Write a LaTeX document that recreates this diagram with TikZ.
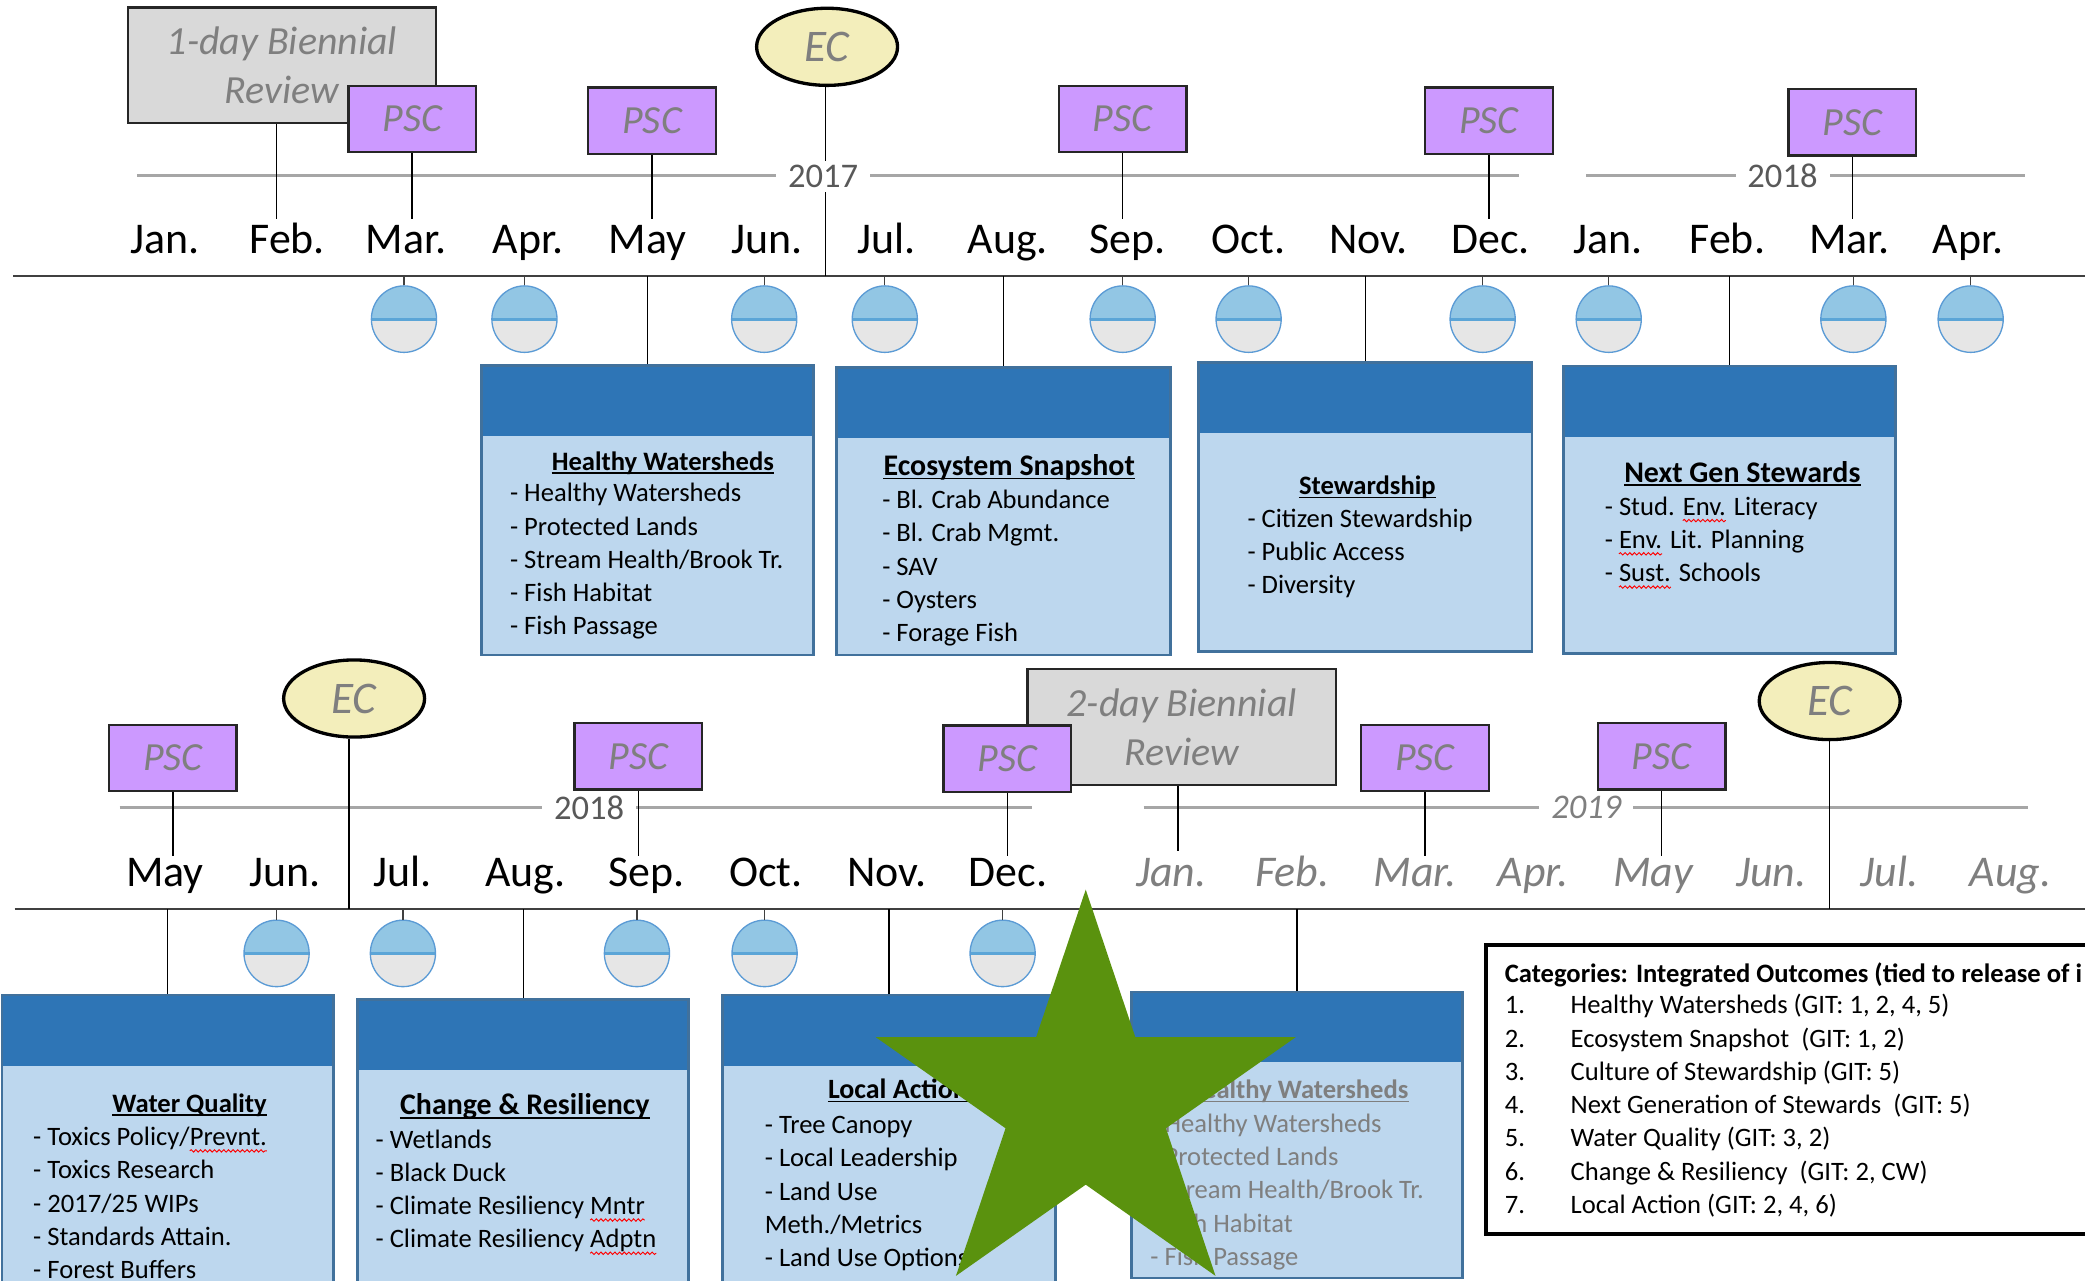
\documentclass[tikz,border=0pt]{standalone}
\usepackage{fontspec}
\setmainfont{Carlito}
\usetikzlibrary{shapes.geometric,decorations.pathmorphing}
\definecolor{pscfill}{RGB}{204,153,255}
\definecolor{revfill}{RGB}{217,217,217}
\definecolor{ecfill}{RGB}{243,238,187}
\definecolor{txtgray}{RGB}{127,127,127}
\definecolor{yrgray}{RGB}{89,89,89}
\definecolor{boxline}{RGB}{38,38,38}
\definecolor{axcol}{RGB}{64,64,64}
\definecolor{ylcol}{RGB}{166,166,166}
\definecolor{bubtop}{RGB}{146,198,228}
\definecolor{bubbot}{RGB}{230,230,230}
\definecolor{bubmid}{RGB}{91,165,215}
\definecolor{bubedge}{RGB}{91,155,213}
\definecolor{cathead}{RGB}{46,117,182}
\definecolor{catbody}{RGB}{189,215,238}
\definecolor{catline}{RGB}{65,113,156}
\definecolor{stargreen}{RGB}{90,146,14}
\newlength\sqw
\newcommand{\sq}[1]{\settowidth{\sqw}{#1}\rlap{\tikz[baseline=0pt,x=1pt,y=1pt]{\useasboundingbox (0,0); \draw[red, line width=0.7pt, decorate, decoration={snake, amplitude=0.9pt, segment length=3.5pt}] (0,-4) -- (\sqw,-4);}}#1}
\begin{document}
\begin{tikzpicture}[x=1pt,y=-1pt,
  sMon/.style={anchor=base, inner sep=0pt, font=\fontsize{33}{38}\selectfont},
  sMonF/.style={anchor=base, inner sep=0pt, text=txtgray, font=\fontsize{33}{38}\selectfont\itshape},
  sYr/.style={fill=white, text=yrgray, inner xsep=9pt, inner ysep=3pt, font=\fontsize{26}{30}\selectfont},
  sYrF/.style={fill=white, text=txtgray, inner xsep=9pt, inner ysep=3pt, font=\fontsize{26}{30}\selectfont\itshape},
  sPsc/.style={draw=boxline, line width=1.8pt, fill=pscfill, minimum width=96pt, minimum height=50pt, inner sep=0pt, text=txtgray, font=\fontsize{30}{36}\selectfont\itshape},
  sEc/.style={ellipse, draw=black, line width=2.5pt, fill=ecfill, minimum width=106pt, minimum height=58pt, inner sep=0pt, text=txtgray, font=\fontsize{34}{40}\selectfont\itshape},
  sRev/.style={draw=boxline, line width=1.8pt, fill=revfill, minimum width=232pt, minimum height=87pt, inner sep=0pt, align=center, text=txtgray, font=\fontsize{30}{37}\selectfont\itshape},
  sBub/.style={ellipse, minimum width=49pt, minimum height=50pt, inner sep=0pt, draw=bubedge, line width=1pt, fill=bubbot,
    path picture={\fill[bubtop] (path picture bounding box.north west) rectangle (path picture bounding box.east);
      \draw[bubmid, line width=2.2pt] (path picture bounding box.west) -- (path picture bounding box.east);}},
  sCat/.style={draw=catline, line width=2pt, fill=catbody, inner sep=0pt,
    path picture={\fill[cathead] (path picture bounding box.north west) rectangle ([yshift=-53pt]path picture bounding box.north east);}},
  sTtl/.style={anchor=base west, inner sep=0pt, font=\fontsize{20}{25}\selectfont\bfseries},
  sTtlL/.style={anchor=base west, inner sep=0pt, font=\fontsize{22.5}{27}\selectfont\bfseries},
  sItm/.style={anchor=base west, inner sep=0pt, font=\fontsize{20}{25}\selectfont},
  sUl/.style={line width=1.2pt},
  sStem/.style={draw=black, line width=1.1pt},
  sBStem/.style={draw=axcol, line width=1pt},
  sAx/.style={draw=axcol, line width=2pt},
  sYl/.style={draw=ylcol, line width=2.2pt},
]
\useasboundingbox (0,0) rectangle (1568,963);
\clip (0,0) rectangle (1568,963);

% reference coordinates
\coordinate (ax1a) at (10,207.5);
\coordinate (ax1b) at (1568,207.5);
\coordinate (ax2a) at (11,683.5);
\coordinate (ax2b) at (1568,683.5);
\coordinate (r1) at (0,165);
\coordinate (r2) at (0,644);
\coordinate (r3) at (0,640);
\coordinate (ya1) at (103,132);
\coordinate (ya2) at (1142,132);
\coordinate (ya3) at (1193,132);
\coordinate (ya4) at (1523,132);
\coordinate (yb1) at (90,607.5);
\coordinate (yb2) at (776,607.5);
\coordinate (yb3) at (860,607.5);
\coordinate (yb4) at (1525,607.5);

% axis and year lines
\draw[sAx] (ax1a) -- (ax1b);
\draw[sAx] (ax2a) -- (ax2b);
\draw[sYl] (ya1) -- (ya2);
\draw[sYl] (ya3) -- (ya4);
\draw[sYl] (yb1) -- (yb2);
\draw[sYl] (yb3) -- (yb4);

% review boxes, EC, PSC
\node[sRev] (rev1) at (212.05,49.15) {1-day Biennial\\Review};
\node[sRev] (rev2) at (888.7,546.7) {2-day Biennial\\Review};
\node[sEc] (e1) at (622,35.2) {EC};
\node[sEc] (e2) at (266.3,525.3) {EC};
\node[sEc] (e3) at (1376,527.2) {EC};
\node[sPsc] (p1) at (310,89.5) {PSC};
\node[sPsc] (p2) at (490.4,90.8) {PSC};
\node[sPsc] (p3) at (844.2,89.5) {PSC};
\node[sPsc] (p4) at (1119.7,90.8) {PSC};
\node[sPsc] (p5) at (1393,92) {PSC};
\node[sPsc] (q1) at (130,570) {PSC};
\node[sPsc] (q2) at (480.1,568.8) {PSC};
\node[sPsc] (q3) at (757.5,570.6) {PSC};
\node[sPsc] (q4) at (1071.6,570) {PSC};
\node[sPsc] (q5) at (1249.6,568.8) {PSC};

% stems from events
\draw[sStem] ([xshift=-4pt]rev1.south) -- ([xshift=-4pt]rev1.south |- r1);
\foreach \n in {p1,p2,p3,p4,p5} \draw[sStem] (\n.south) -- (\n.south |- r1);
\foreach \n in {q1,q2,q3,q4,q5} \draw[sStem] (\n.south) -- (\n.south |- r2);
\draw[sStem, line width=2pt] ([xshift=-2.7pt]rev2.south) -- ([xshift=-2.7pt]rev2.south |- r3);
\draw[sStem] ([xshift=-1pt]e1.south) -- ([xshift=-1pt]e1.south |- ax1a);
\draw[sStem] ([xshift=-3.8pt]e2.south) -- ([xshift=-3.8pt]e2.south |- ax2a);
\draw[sStem] (e3.south) -- (e3.south |- ax2a);

% year labels
\node[sYr] (y17) at (619,132.5) {2017};
\node[sYr] (y18a) at (1340.5,132.5) {2018};
\node[sYr] (y18b) at (443,607.5) {2018};
\node[sYrF] (y19) at (1193,607.5) {2019};

% month labels
\foreach \x/\t [count=\i] in {124/Jan., 216/Feb., 305.5/Mar., 397/Apr., 487/May, 577/Jun., 667/Jul., 758/Aug., 848/Sep., 939/Oct., 1029/Nov., 1121/Dec., 1209/Jan., 1299/Feb., 1391/Mar., 1480/Apr.}
  \node[sMon] (ma\i) at (\x,190.5) {\t};
\foreach \x/\t [count=\i] in {124/May, 214.5/Jun., 303/Jul., 395/Aug., 486/Sep., 576/Oct., 667/Nov., 758/Dec.}
  \node[sMon] (mb\i) at (\x,667) {\t};
\foreach \x/\t [count=\i] in {881/Jan., 972/Feb., 1064/Mar., 1153/Apr., 1243/May, 1332/Jun., 1421/Jul., 1512/Aug.}
  \node[sMonF] (mc\i) at (\x,666.5) {\t};

% bubbles
\foreach \x [count=\i] in {303.8,394.4,574.7,665.4,844.3,939,1115,1209.8,1393.8,1482}{
  \node[sBub] (ba\i) at (\x,240) {};
  \draw[sBStem] (ba\i.north) -- (ba\i.north |- ax1a);
}
\foreach \x [count=\i] in {208,303,479,575,754}{
  \node[sBub] (bb\i) at (\x,717) {};
  \draw[sBStem] (bb\i.north) -- (bb\i.north |- ax2a);
}

% category boxes
\node[sCat, minimum width=249.7pt, minimum height=217.6pt] (c1) at (486.9,383.8) {};
\node[sCat, minimum width=251.3pt, minimum height=216.4pt] (c2) at (754.7,384.4) {};
\node[sCat, minimum width=251pt, minimum height=217.2pt] (c3) at (1026.7,381.4) {};
\node[sCat, minimum width=250pt, minimum height=216pt] (c4) at (1300.7,383.3) {};
\node[sCat, minimum width=249pt, minimum height=240pt] (c5) at (126.1,868.3) {};
\node[sCat, minimum width=249pt, minimum height=237pt] (c6) at (393.5,870) {};
\node[sCat, minimum width=250.6pt, minimum height=240pt] (c7) at (668.7,868.3) {};
\node[sCat, minimum width=249pt, minimum height=215pt] (c8) at (975.5,853.5) {};
\foreach \n in {c1,c2,c3,c4} \draw[sStem] (\n.north) -- (\n.north |- ax1a);
\foreach \n in {c5,c6,c7,c8} \draw[sStem] (\n.north) -- (\n.north |- ax2a);

% box texts
\node[sTtl] (t1) at (414.8,353.7) {Healthy Watersheds};
\foreach \t [count=\i] in {- Healthy Watersheds, - Protected Lands, - Stream Health/Brook Tr., - Fish Habitat, - Fish Passage}
  \node[sItm] (i1-\i) at (383.4,352.5+25*\i) {\t};
\node[sTtlL] (t2) at (664.3,357.5) {Ecosystem Snapshot};
\foreach \t [count=\i] in {- Bl. Crab Abundance, - Bl. Crab Mgmt., - SAV, - Oysters, - Forage Fish}
  \node[sItm] (i2-\i) at (663.3,357.5+25*\i) {\t};
\node[sTtl] (t3) at (976.8,372) {Stewardship};
\foreach \t [count=\i] in {- Citizen Stewardship, - Public Access, - Diversity}
  \node[sItm] (i3-\i) at (938,371.5+25*\i) {\t};
\node[sTtlL] (t4) at (1221.3,362.5) {Next Gen Stewards};
\foreach \t [count=\i] in {- Stud. \sq{Env.} Literacy, - \sq{Env.} Lit. Planning, - \sq{Sust.} Schools}
  \node[sItm] (i4-\i) at (1206.7,362.5+25*\i) {\t};
\node[sTtl] (t5) at (84.4,836.3) {Water Quality};
\foreach \t [count=\i] in {- Toxics Policy/\sq{Prevnt.}, - Toxics Research, - 2017/25 WIPs, - Standards Attain., - Forest Buffers}
  \node[sItm] (i5-\i) at (24.8,836.5+25*\i) {\t};
\node[sTtlL] (t6) at (300.7,838.5) {Change \& Resiliency};
\foreach \t [count=\i] in {- Wetlands, - Black Duck, - Climate Resiliency \sq{Mntr}, - Climate Resiliency \sq{Adptn}}
  \node[sItm] (i6-\i) at (282.3,838.5+25*\i) {\t};
\node[sTtl, font=\fontsize{21}{25}\selectfont\bfseries] (t7) at (622.5,826.2) {Local Action};
\foreach \t [count=\i] in {- Tree Canopy, - Local Leadership, - Land Use, Meth./Metrics, - Land Use Options}
  \node[sItm] (i7-\i) at (575,827.5+25*\i) {\t};
\node[sTtl, text=txtgray] (t8) at (892,826.2) {Healthy Watersheds};
\foreach \t [count=\i] in {- Healthy Watersheds, - Protected Lands, - Stream Health/Brook Tr., - Fish Habitat, - Fish Passage}
  \node[sItm, text=txtgray] (i8-\i) at (865,826.5+25*\i) {\t};
\foreach \n in {t1,t2,t3,t4,t5,t6,t7}
  \draw[sUl] ([yshift=-2.2pt]\n.base west) -- ([yshift=-2.2pt]\n.base east);
\draw[sUl, txtgray] ([yshift=-2.2pt]t8.base west) -- ([yshift=-2.2pt]t8.base east);

% legend
\node[draw=black, line width=3pt, fill=white, minimum width=482.5pt, minimum height=217.3pt, inner sep=0pt] (leg) at (1358.75,819.35) {};
\node[sTtl] (legt) at (1131.5,738.5) {Categories: Integrated Outcomes (tied to release of i};
\foreach \t [count=\i] in {{Healthy Watersheds (GIT: 1, 2, 4, 5)}, {Ecosystem Snapshot\ \ (GIT: 1, 2)}, {Culture of Stewardship (GIT: 5)}, {Next Generation of Stewards\ \ (GIT: 5)}, {Water Quality (GIT: 3, 2)}, {Change \& Resiliency\ \ (GIT: 2, CW)}, {Local Action (GIT: 2, 4, 6)}}{
  \node[sItm] (ln\i) at (1131.5,737.5+25*\i) {\i.};
  \node[sItm] (lt\i) at (1181,737.5+25*\i) {\t};
}

% green star
\fill[stargreen] (816.5,669) -- (853.8,780) -- (974.4,780) -- (876.8,848.5) -- (914.1,959.5) -- (816.5,890.9) -- (718.9,959.5) -- (756.2,848.5) -- (658.6,780) -- (779.2,780) -- cycle;
\end{tikzpicture}
\end{document}
